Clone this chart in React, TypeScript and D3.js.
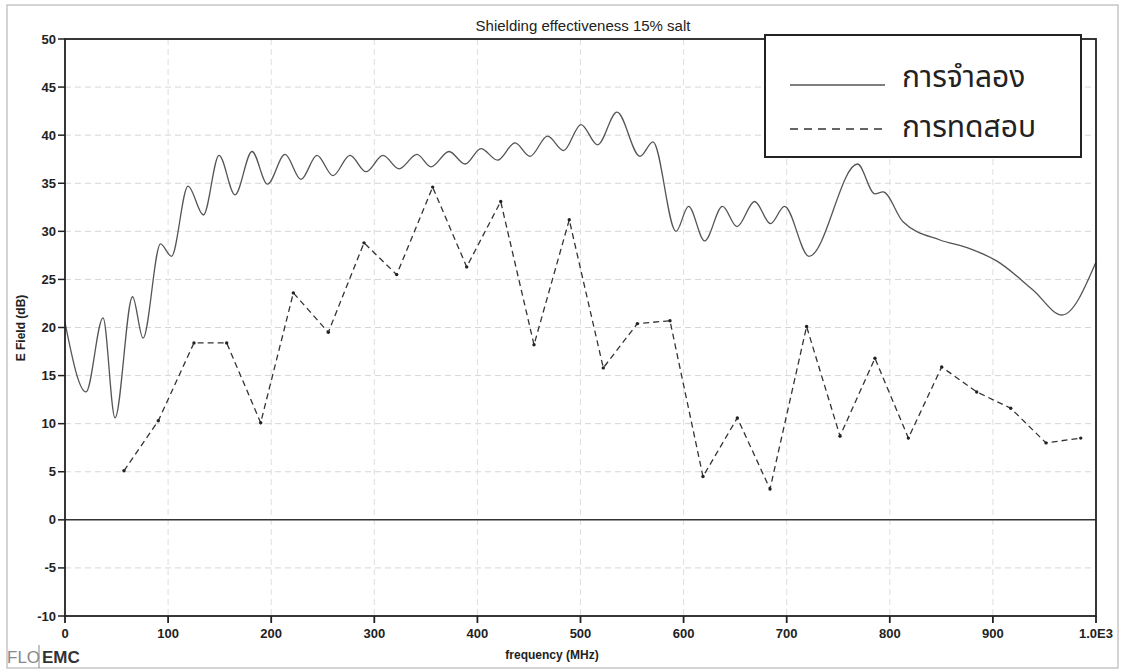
import React from "react";
import * as d3 from "d3";

// ---- data ----
const chartTitle = "Shielding effectiveness 15% salt";
const xAxisLabel = "frequency (MHz)";
const yAxisLabel = "E Field (dB)";
const legendLabels = ["การจำลอง", "การทดสอบ"];

const freqTicks = [0, 100, 200, 300, 400, 500, 600, 700, 800, 900, 1000];
const freqTickLabels = ["0", "100", "200", "300", "400", "500", "600", "700", "800", "900", "1.0E3"];
const dbTicks = [-10, -5, 0, 5, 10, 15, 20, 25, 30, 35, 40, 45, 50];

// simulation (solid) - MHz / dB
const simFreq = [
  0, 20.4, 36.9, 48.5, 65.5, 75.7, 92.6, 103.3, 119.3, 134.3, 149.4, 164.9, 181.4, 196.4,
  213.4, 228.9, 244.4, 259.9, 276.4, 292.0, 308.4, 324.0, 341.4, 355.0, 372.5, 388.0,
  403.5, 419.5, 436.5, 451.0, 468.0, 483.6, 500.5, 516.5, 535.4, 557.7, 570.3, 592.6,
  604.8, 620.4, 637.7, 651.8, 668.9, 684.3, 697.9, 721.6, 768.7, 785.6, 793.4, 812.8,
  848.7, 874.9, 904.0, 938.9, 967.0, 1000,
];
const simDb = [
  20.5, 13.3, 21.0, 10.6, 23.2, 18.9, 28.7, 27.4, 34.7, 31.7, 37.9, 33.8, 38.3, 34.9,
  38.0, 35.4, 37.9, 35.8, 37.9, 36.2, 37.9, 36.5, 38.0, 36.7, 38.3, 37.0,
  38.6, 37.4, 39.2, 37.8, 39.9, 38.4, 41.1, 39.0, 42.4, 37.8, 39.3, 30.0,
  32.6, 29.0, 32.6, 30.5, 33.1, 30.8, 32.6, 27.4, 37.0, 33.9, 34.1, 31.0,
  29.1, 28.3, 26.9, 23.9, 21.3, 26.8,
];

// measurement (dashed) - MHz / dB
const measFreq = [
  57.2, 90.5, 125.1, 156.8, 189.8, 221.5, 255.4, 290.0, 321.7, 356.6, 389.6, 422.6,
  454.9, 489.1, 522.1, 555.1, 586.8, 618.8, 652.1, 683.8, 719.3, 751.7, 785.6, 818.0,
  850.3, 884.3, 917.3, 951.5, 985.2,
];
const measDb = [
  5.1, 10.3, 18.4, 18.4, 10.1, 23.6, 19.5, 28.8, 25.5, 34.6, 26.3, 33.1,
  18.2, 31.2, 15.8, 20.4, 20.7, 4.5, 10.6, 3.2, 20.1, 8.7, 16.8, 8.5,
  15.9, 13.3, 11.6, 8.0, 8.5,
];

const W = 1124;
const H = 672;
const M = { left: 65, right: 1096, top: 39, bottom: 616 };
const FONT = "'Liberation Sans', Arial, sans-serif";
const THAI = "'Noto Sans Thai', 'Noto Sans Thai Looped', 'Noto Sans', 'DejaVu Sans', sans-serif";

export default function App() {
  const x = d3.scaleLinear().domain([0, 1000]).range([M.left, M.right]);
  const y = d3.scaleLinear().domain([-10, 50]).range([M.bottom, M.top]);

  const simPts: [number, number][] = simFreq.map((f, i) => [f, simDb[i]]);
  const measPts: [number, number][] = measFreq.map((f, i) => [f, measDb[i]]);

  const simLine = d3
    .line<[number, number]>()
    .x((d) => x(d[0]))
    .y((d) => y(d[1]))
    .curve(d3.curveMonotoneX);
  const measLine = d3
    .line<[number, number]>()
    .x((d) => x(d[0]))
    .y((d) => y(d[1]));

  const gridY = dbTicks.filter((v) => v !== -10 && v !== 50 && v !== 0);
  const gridX = freqTicks.filter((v) => v !== 0 && v !== 1000);

  const legend = { x0: 765, y0: 35, x1: 1081, y1: 157 };

  return (
    <svg
      width={W}
      height={H}
      style={{ position: "absolute", left: 0, top: 0, background: "#fff" }}
    >
      {/* outer frame */}
      <rect x={7} y={5} width={1111} height={663} fill="none" stroke="#b8b8b8" strokeWidth={1.2} />

      {/* grid */}
      {gridY.map((v) => (
        <line key={"gy" + v} x1={M.left} x2={M.right} y1={y(v)} y2={y(v)} stroke="#d6d6d6" strokeWidth={1} strokeDasharray="6,4" />
      ))}
      {gridX.map((v) => (
        <line key={"gx" + v} x1={x(v)} x2={x(v)} y1={M.top} y2={M.bottom} stroke="#dedede" strokeWidth={1} strokeDasharray="6,4" />
      ))}

      {/* zero line */}
      <line x1={M.left} x2={M.right} y1={y(0)} y2={y(0)} stroke="#333" strokeWidth={1.5} />

      {/* data */}
      <path d={simLine(simPts) || ""} fill="none" stroke="#555" strokeWidth={1.3} />
      <path d={measLine(measPts) || ""} fill="none" stroke="#333" strokeWidth={1.3} strokeDasharray="6,4" />
      {measPts.map((d, i) => (
        <circle key={"m" + i} cx={x(d[0])} cy={y(d[1])} r={1.7} fill="#222" />
      ))}

      {/* plot border */}
      <rect x={M.left} y={M.top} width={M.right - M.left} height={M.bottom - M.top} fill="none" stroke="#222" strokeWidth={1.8} />

      {/* y ticks */}
      {dbTicks.map((v) => (
        <g key={"yt" + v}>
          <line x1={M.left - 7} x2={M.left} y1={y(v)} y2={y(v)} stroke="#222" strokeWidth={1.5} />
          <text x={M.left - 9} y={y(v)} dy="0.35em" textAnchor="end" fontFamily={FONT} fontWeight="bold" fontSize={13} fill="#222">
            {v}
          </text>
        </g>
      ))}
      {/* x ticks */}
      {freqTicks.map((v, i) => (
        <g key={"xt" + v}>
          <line x1={x(v)} x2={x(v)} y1={M.bottom} y2={M.bottom + 7} stroke="#222" strokeWidth={1.8} />
          <text x={x(v)} y={M.bottom + 22} textAnchor="middle" fontFamily={FONT} fontWeight="bold" fontSize={13} fill="#222">
            {freqTickLabels[i]}
          </text>
        </g>
      ))}

      {/* axis labels */}
      <text x={552} y={659} textAnchor="middle" fontFamily={FONT} fontWeight="bold" fontSize={12} fill="#222">
        {xAxisLabel}
      </text>
      <text transform={`translate(25,328) rotate(-90)`} textAnchor="middle" fontFamily={FONT} fontWeight="bold" fontSize={12} fill="#222">
        {yAxisLabel}
      </text>

      {/* title */}
      <text x={583} y={31} textAnchor="middle" fontFamily={FONT} fontSize={15} fill="#222">
        {chartTitle}
      </text>

      {/* legend */}
      <rect x={legend.x0} y={legend.y0} width={legend.x1 - legend.x0} height={legend.y1 - legend.y0} fill="#fff" stroke="#222" strokeWidth={2} />
      <line x1={790} x2={885} y1={85} y2={85} stroke="#555" strokeWidth={1.3} />
      <text x={902} y={87} fontFamily={THAI} fontSize={30} fill="#222">
        {legendLabels[0]}
      </text>
      <line x1={790} x2={885} y1={129} y2={129} stroke="#333" strokeWidth={1.3} strokeDasharray="8,6" />
      <text x={902} y={137} fontFamily={THAI} fontSize={30} fill="#222">
        {legendLabels[1]}
      </text>

      {/* logo */}
      <text x={7} y={663} fontFamily={FONT} fontSize={17} fill="#888">
        FLO
      </text>
      <line x1={39} x2={39} y1={645} y2={668} stroke="#888" strokeWidth={1} />
      <text x={42} y={663} fontFamily={FONT} fontSize={17} fontWeight="bold" fill="#333">
        EMC
      </text>
    </svg>
  );
}
